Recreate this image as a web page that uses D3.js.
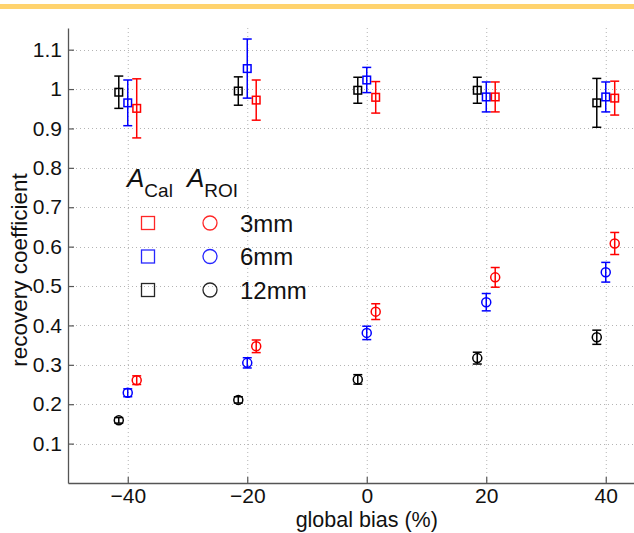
<!DOCTYPE html>
<html>
<head>
<meta charset="utf-8">
<script src="https://cdn.jsdelivr.net/npm/d3@7"></script>
<style>
body { margin: 0; background: #fff; }
svg { display: block; font-family: "Liberation Sans", Arial, sans-serif; }
</style>
</head>
<body>
<svg width="634" height="533"></svg>
<script>
// data
var sizes = ["3mm", "6mm", "12mm"];
var sizeColors = ["#ff0000", "#0000ff", "#000000"];
var xTicks = [-40, -20, 0, 20, 40];
var yTicks = [0.1, 0.2, 0.3, 0.4, 0.5, 0.6, 0.7, 0.8, 0.9, 1, 1.1];

// measured global bias per sphere size (points sit slightly apart)
var bias3 = [-38.5, -18.5, 1.5, 21.5, 41.5];
var bias6 = [-40, -20, 0, 20, 40];
var bias12 = [-41.5, -21.5, -1.5, 18.5, 38.5];

// A_Cal (squares)
var cal3 = [0.951, 0.972, 0.979, 0.980, 0.977];
var cal3Err = [0.075, 0.051, 0.040, 0.038, 0.043];
var cal6 = [0.965, 1.052, 1.023, 0.980, 0.980];
var cal6Err = [0.058, 0.075, 0.032, 0.038, 0.038];
var cal12 = [0.992, 0.995, 0.997, 0.997, 0.965];
var cal12Err = [0.041, 0.036, 0.033, 0.033, 0.062];

// A_ROI (circles)
var roi3 = [0.261, 0.347, 0.435, 0.522, 0.608];
var roi3Err = [0.011, 0.016, 0.020, 0.025, 0.028];
var roi6 = [0.229, 0.305, 0.381, 0.459, 0.535];
var roi6Err = [0.010, 0.013, 0.017, 0.022, 0.025];
var roi12 = [0.159, 0.211, 0.263, 0.317, 0.370];
var roi12Err = [0.007, 0.008, 0.012, 0.015, 0.018];

var svg = d3.select("svg");

// orange strip at the top
svg.append("rect").attr("x", 0).attr("y", 4).attr("width", 634).attr("height", 5)
  .attr("fill", "#ffd36e");

var x = d3.scaleLinear().domain([-50, 50]).range([68, 665.5]);
var y = d3.scaleLinear().domain([0, 1.155]).range([483, 28]);

// grid
var grid = svg.append("g").attr("stroke", "#b4b4b4").attr("stroke-width", 1)
  .attr("stroke-dasharray", "1,3");
grid.selectAll("line.v").data(xTicks).enter().append("line")
  .attr("x1", d => x(d) + 0.5).attr("x2", d => x(d) + 0.5)
  .attr("y1", y.range()[1]).attr("y2", y.range()[0]);
grid.selectAll("line.h").data(yTicks).enter().append("line")
  .attr("x1", x.range()[0]).attr("x2", 634)
  .attr("y1", d => Math.round(y(d)) + 0.5).attr("y2", d => Math.round(y(d)) + 0.5);

// axes (ticks pointing inwards like matlab)
var xAxis = svg.append("g").attr("transform", "translate(0," + y.range()[0] + ")")
  .call(d3.axisBottom(x).tickValues(xTicks).tickSizeInner(-6).tickSizeOuter(0).tickPadding(5)
    .tickFormat(d => d < 0 ? "\u2212" + Math.abs(d) : d));
var yAxis = svg.append("g").attr("transform", "translate(" + x.range()[0] + ",0)")
  .call(d3.axisLeft(y).tickValues(yTicks).tickSizeInner(-6).tickSizeOuter(0).tickPadding(6)
    .tickFormat(d3.format("~g")));
[xAxis, yAxis].forEach(function(a) {
  a.select(".domain").attr("stroke", "#555").attr("stroke-width", 1.3);
  a.selectAll(".tick line").attr("stroke", "#555").attr("stroke-width", 1.2);
  a.selectAll(".tick text").attr("fill", "#111").style("font-size", "21px")
    .style("font-family", "Liberation Sans, Arial, sans-serif");
});

// axis titles
svg.append("text").attr("x", x(0)).attr("y", 527).attr("text-anchor", "middle")
  .style("font-size", "21.5px").attr("fill", "#111").text("global bias (%)");
svg.append("text").attr("transform", "translate(27,270) rotate(-90)")
  .attr("text-anchor", "middle").style("font-size", "22.5px").attr("fill", "#111")
  .text("recovery coefficient");

// build series rows
var biasArr = [bias3, bias6, bias12];
var calArr = [cal3, cal6, cal12], calErrArr = [cal3Err, cal6Err, cal12Err];
var roiArr = [roi3, roi6, roi12], roiErrArr = [roi3Err, roi6Err, roi12Err];

function drawSeries(vals, errs, shape) {
  // draw black first, then blue, then red
  for (var s = 2; s >= 0; s--) {
    var rows = vals[s].map((v, i) => ({x: biasArr[s][i], v: v, e: errs[s][i]}));
    var col = sizeColors[s];
    var g = svg.append("g").attr("stroke", col).attr("fill", "none").attr("stroke-width", 1.5);
    var cap = 4.5;
    rows.forEach(function(d) {
      var cx = x(d.x), top = y(d.v + d.e), bot = y(d.v - d.e);
      g.append("line").attr("x1", cx).attr("x2", cx).attr("y1", top).attr("y2", bot);
      g.append("line").attr("x1", cx - cap).attr("x2", cx + cap).attr("y1", top).attr("y2", top);
      g.append("line").attr("x1", cx - cap).attr("x2", cx + cap).attr("y1", bot).attr("y2", bot);
      if (shape == "square") {
        g.append("rect").attr("x", cx - 3.8).attr("y", y(d.v) - 3.8).attr("width", 7.6).attr("height", 7.6)
          .attr("fill", "none");
      } else {
        g.append("circle").attr("cx", cx).attr("cy", y(d.v)).attr("r", 4.5).attr("fill", "none");
      }
    });
  }
}
drawSeries(calArr, calErrArr, "square");
drawSeries(roiArr, roiErrArr, "circle");

// legend
var leg = svg.append("g").attr("fill", "#111");
var t1 = leg.append("text").attr("x", 127).attr("y", 187);
t1.append("tspan").style("font-size", "26px").style("font-style", "italic").text("A");
t1.append("tspan").attr("dy", 10).style("font-size", "19px").text("Cal");
var t2 = leg.append("text").attr("x", 187).attr("y", 187);
t2.append("tspan").style("font-size", "26px").style("font-style", "italic").text("A");
t2.append("tspan").attr("dy", 10).style("font-size", "19px").text("ROI");

var legY = d3.scalePoint().domain(sizes).range([223, 290]);
sizes.forEach(function(s, i) {
  var cy = legY(s);
  leg.append("rect").attr("x", 148 - 6.5).attr("y", cy - 6.5).attr("width", 13).attr("height", 13)
    .attr("fill", "none").attr("stroke", sizeColors[i]).attr("stroke-width", 1.3).attr("opacity", 0.85);
  leg.append("circle").attr("cx", 210).attr("cy", cy).attr("r", 7)
    .attr("fill", "none").attr("stroke", sizeColors[i]).attr("stroke-width", 1.3).attr("opacity", 0.85);
  leg.append("text").attr("x", 240).attr("y", cy + 8.5).style("font-size", "24px").text(s);
});
</script>
</body>
</html>
